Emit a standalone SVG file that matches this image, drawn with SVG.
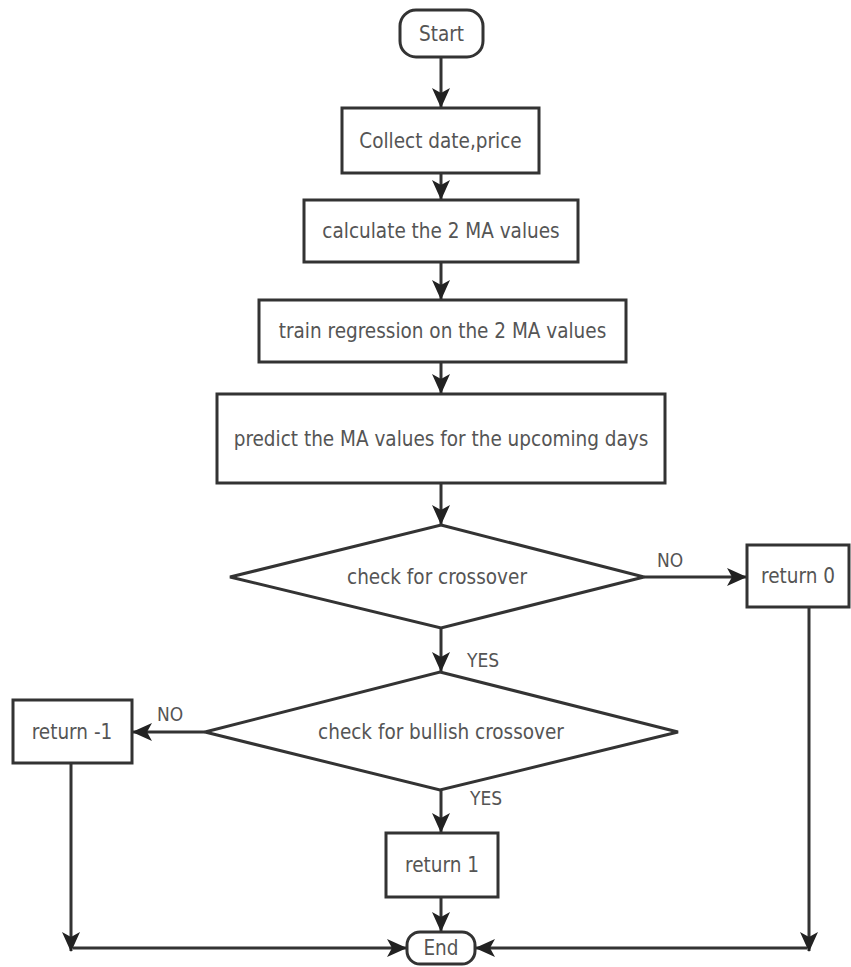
<svg xmlns="http://www.w3.org/2000/svg" width="851" height="967" viewBox="0 0 851 967">
<style>
.box{fill:#fff;stroke:#333;stroke-width:3}
.lbl{font-family:"DejaVu Sans Condensed","DejaVu Sans",sans-serif;font-stretch:condensed;font-size:20.5px;fill:#555;text-anchor:middle;dominant-baseline:central}
.edge{fill:none;stroke:#333;stroke-width:3}
.el{font-family:"DejaVu Sans Condensed","DejaVu Sans",sans-serif;font-stretch:condensed;font-size:19px;fill:#555}
</style>
<defs>
<marker id="ah" markerUnits="userSpaceOnUse" markerWidth="20" markerHeight="20" viewBox="0 0 20 20" refX="19" refY="10" orient="auto">
<path d="M0,1 L20,10 L0,19 L5,10 z" fill="#222"/>
</marker>
</defs>
<rect width="851" height="967" fill="#fff"/>
<g id="connectors">
<path class="edge" d="M441,57 V107" marker-end="url(#ah)"/>
<path class="edge" d="M441,173 V199" marker-end="url(#ah)"/>
<path class="edge" d="M441,262 V299" marker-end="url(#ah)"/>
<path class="edge" d="M441,362 V393" marker-end="url(#ah)"/>
<path class="edge" d="M441,483 V524" marker-end="url(#ah)"/>
<path class="edge" d="M644,577 H746" marker-end="url(#ah)"/>
<path class="edge" d="M441,628 V671" marker-end="url(#ah)"/>
<path class="edge" d="M205,732 H133" marker-end="url(#ah)"/>
<path class="edge" d="M441,790 V832" marker-end="url(#ah)"/>
<path class="edge" d="M441,897 V931" marker-end="url(#ah)"/>
<path class="edge" d="M71,763 V951" marker-end="url(#ah)"/>
<path class="edge" d="M73,948 H406" marker-end="url(#ah)"/>
<path class="edge" d="M809,607 V951" marker-end="url(#ah)"/>
<path class="edge" d="M807,948 H476" marker-end="url(#ah)"/>
<text class="el" x="657" y="567">NO</text>
<text class="el" x="467" y="667">YES</text>
<text class="el" x="157" y="721">NO</text>
<text class="el" x="470" y="805">YES</text>
</g>
<g id="start"><rect class="box" x="400" y="10" width="83" height="47" rx="16"/><text class="lbl" x="441.5" y="34">Start</text></g>
<g id="collect"><rect class="box" x="342" y="108" width="197" height="65"/><text class="lbl" x="440.5" y="141">Collect date,price</text></g>
<g id="calc"><rect class="box" x="304" y="200" width="274" height="62"/><text class="lbl" x="441" y="231">calculate the 2 MA values</text></g>
<g id="train"><rect class="box" x="259" y="300" width="367" height="62"/><text class="lbl" x="442.5" y="331">train regression on the 2 MA values</text></g>
<g id="predict"><rect class="box" x="217" y="394" width="448" height="89"/><text class="lbl" x="441" y="439">predict the MA values for the upcoming days</text></g>
<g id="d1"><polygon class="box" points="441,525 644,577 441,628 230,577"/><text class="lbl" x="437" y="577">check for crossover</text></g>
<g id="ret0"><rect class="box" x="747" y="545" width="102" height="62"/><text class="lbl" x="798" y="576">return 0</text></g>
<g id="d2"><polygon class="box" points="440,672 678,732 440,790 205,732"/><text class="lbl" x="441" y="732">check for bullish crossover</text></g>
<g id="retm1"><rect class="box" x="13" y="700" width="119" height="63"/><text class="lbl" x="72" y="732">return -1</text></g>
<g id="ret1"><rect class="box" x="386" y="833" width="112" height="64"/><text class="lbl" x="442" y="865">return 1</text></g>
<g id="end"><rect class="box" x="407" y="932" width="68" height="32" rx="13"/><text class="lbl" x="441" y="948">End</text></g>
</svg>
